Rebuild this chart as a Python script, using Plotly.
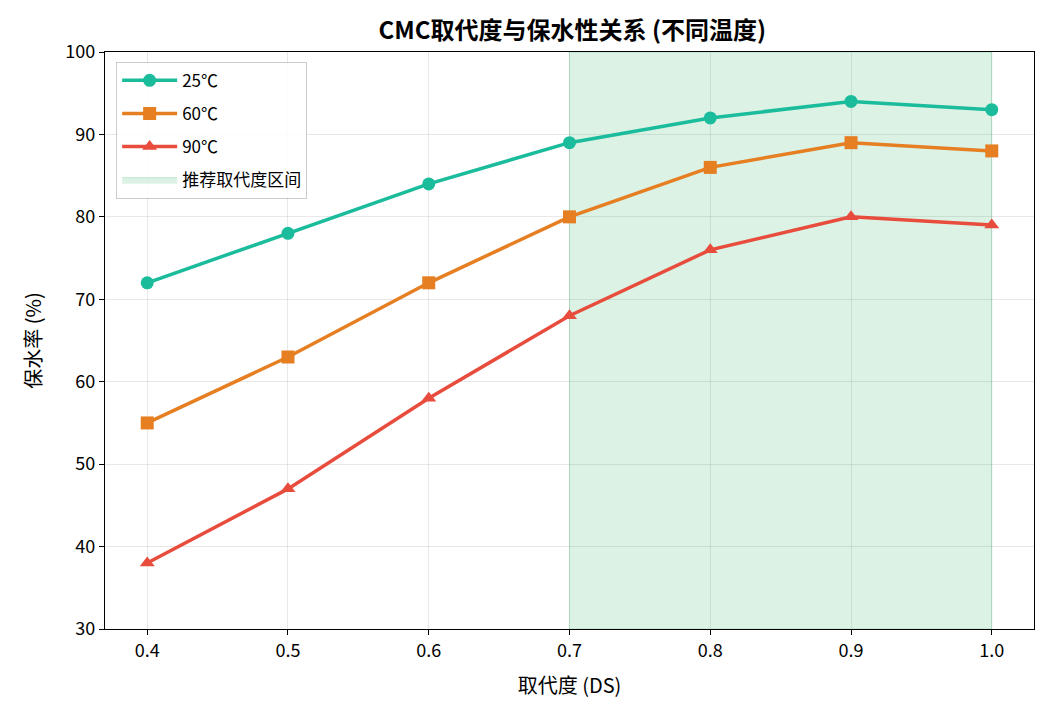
import plotly.graph_objects as go

ds = [0.4, 0.5, 0.6, 0.7, 0.8, 0.9, 1.0]
t25 = [72, 78, 84, 89, 92, 94, 93]
t60 = [55, 63, 72, 80, 86, 89, 88]
t90 = [38, 47, 58, 68, 76, 80, 79]
band = [0.7, 1.0]
yrange = [30, 100]

FONT = "Noto Sans CJK SC, Microsoft YaHei, sans-serif"

fig = go.Figure()
fig.add_trace(go.Scatter(
    x=[band[0], band[1], band[1], band[0], band[0]],
    y=[yrange[0], yrange[0], yrange[1], yrange[1], yrange[0]],
    fill="toself", mode="lines", line=dict(width=1, color="rgba(39,174,96,0.25)"),
    fillcolor="rgba(39,174,96,0.16)", name="推荐取代度区间", legendrank=4,
    legendgroup="g4", hoverinfo="skip"))
series = [("25℃", t25, "#1abc9c", "circle"),
          ("60℃", t60, "#e67e22", "square"),
          ("90℃", t90, "#e74c3c", "triangle-up")]
for i, (name, vals, col, sym) in enumerate(series):
    fig.add_trace(go.Scatter(x=ds, y=vals, mode="lines+markers", name=name,
                             line=dict(color=col, width=3.5),
                             marker=dict(symbol=sym, size=13, color=col),
                             legendrank=i + 1, legendgroup=f"g{i}"))

axis_common = dict(showline=True, linecolor="black", linewidth=1.2, mirror=True,
                   ticks="outside", ticklen=5, tickcolor="black",
                   showgrid=True, gridcolor="rgba(0,0,0,0.09)", gridwidth=1,
                   zeroline=False, tickfont=dict(size=18, color="black", family=FONT))
fig.update_xaxes(range=[0.37, 1.03], tickvals=ds, ticktext=[f"{v:.1f}" for v in ds],
                 title=dict(text="取代度 (DS)", font=dict(size=20, color="black", family=FONT), standoff=18),
                 **axis_common)
fig.update_yaxes(range=yrange, dtick=10,
                 title=dict(text="保水率 (%)", font=dict(size=20, color="black", family=FONT), standoff=18),
                 **axis_common)

fig.update_layout(
    width=1050, height=719,
    margin=dict(l=105, r=16, t=52, b=90),
    paper_bgcolor="white", plot_bgcolor="white",
    font=dict(family=FONT, color="black"),
    title=dict(text="<b>CMC取代度与保水性关系 (不同温度)</b>", x=0.545, xanchor="center",
               y=0.958, yanchor="middle", font=dict(size=24, family=FONT, color="black")),
    legend=dict(x=0.012, y=0.983, xanchor="left", yanchor="top",
                bgcolor="rgba(255,255,255,0.85)", bordercolor="rgba(0,0,0,0.2)", borderwidth=1,
                font=dict(size=17, family=FONT, color="black"), itemwidth=55,
                traceorder="grouped", tracegroupgap=8),
    showlegend=True,
)
fig.write_html("out.html")
